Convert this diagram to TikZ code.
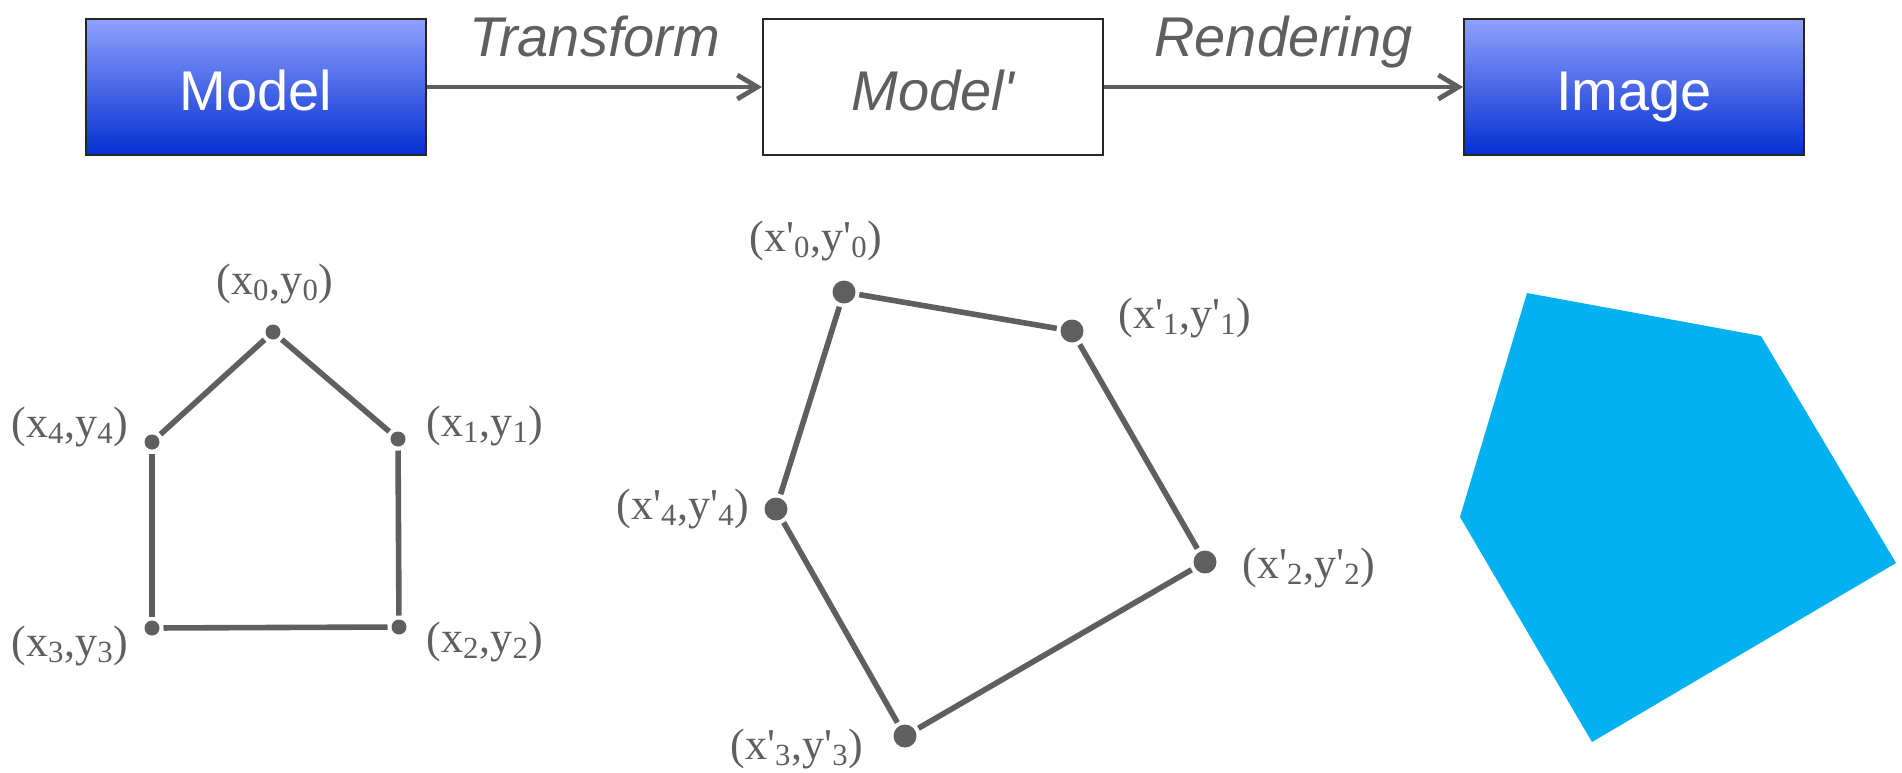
\documentclass[tikz,border=0pt]{standalone}
\usepackage{fontspec}
\usetikzlibrary{arrows.meta}
\newfontfamily\boxfont{Liberation Sans}[Ligatures=TeXOff]
\newfontfamily\crdfont{Liberation Serif}[Ligatures=TeXOff]
\definecolor{inkgray}{HTML}{5F5F5F}
\definecolor{boxtop}{RGB}{143,160,255}
\definecolor{boxmid}{RGB}{108,128,242}
\definecolor{boxbot}{RGB}{4,48,208}
\definecolor{imgblue}{RGB}{3,176,240}

\begin{document}
\begin{tikzpicture}[x=0.5pt,y=-0.5pt,
  stage/.style={rectangle,draw=black!85,line width=1pt,minimum width=170pt,
               minimum height=68pt,inner sep=0pt,text height=26pt,text depth=3pt,
               font=\boxfont\fontsize{28}{30}\selectfont},
  filled/.style={stage,top color=boxtop,middle color=boxmid,bottom color=boxbot,
                 text=white},
  flow/.style={-{Straight Barb[length=10pt,width=12pt]},inkgray,line width=2.4pt},
  steplbl/.style={font=\boxfont\itshape\fontsize{28}{30}\selectfont,
                  text=inkgray,inner sep=0pt},
  vtx/.style={circle,fill=inkgray,inner sep=0pt,minimum size=7.5pt,outer sep=2pt},
  bigvtx/.style={vtx,minimum size=11.5pt},
  rim/.style={inkgray,line width=2.8pt},
  crd/.style={font=\crdfont\fontsize{22}{24}\selectfont,text=inkgray,inner sep=0pt}]

\useasboundingbox (0,0) rectangle (1902,772);

% pipeline
\node[filled] (model) at (256,87)  {Model};
\node[stage,fill=white,text=inkgray,font=\boxfont\itshape\fontsize{28}{30}\selectfont]
      (modelp) at (933,87) {Model'};
\node[filled] (image) at (1634,87) {Image};

\draw[flow] (model) -- node[steplbl,midway,anchor=base,yshift=15.5pt] (tr) {Transform} (modelp);
\draw[flow] (modelp) -- node[steplbl,midway,anchor=base,yshift=15.5pt] (rd) {Rendering} (image);

% model polygon
\node[vtx] (p0) at (273,332) {};
\node[vtx] (p1) at (398,439) {};
\node[vtx] (p2) at (399,627) {};
\node[vtx] (p3) at (152,628) {};
\node[vtx] (p4) at (152,442) {};

\draw[rim] (p0) -- (p1);
\draw[rim] (p1) -- (p2);
\draw[rim] (p2) -- (p3);
\draw[rim] (p3) -- (p4);
\draw[rim] (p4) -- (p0);

\node[crd] (l0) at (275,284) {(x\textsubscript{0},y\textsubscript{0})};
\node[crd] (l1) at (485,426) {(x\textsubscript{1},y\textsubscript{1})};
\node[crd] (l2) at (485,642) {(x\textsubscript{2},y\textsubscript{2})};
\node[crd] (l3) at (70,646)  {(x\textsubscript{3},y\textsubscript{3})};
\node[crd] (l4) at (70,427)  {(x\textsubscript{4},y\textsubscript{4})};

% transformed polygon
\node[bigvtx] (m0) at (844,292) {};
\node[bigvtx] (m1) at (1072,331) {};
\node[bigvtx] (m2) at (1205,562) {};
\node[bigvtx] (m3) at (905,736) {};
\node[bigvtx] (m4) at (776,509) {};

\draw[rim] (m0) -- (m1);
\draw[rim] (m1) -- (m2);
\draw[rim] (m2) -- (m3);
\draw[rim] (m3) -- (m4);
\draw[rim] (m4) -- (m0);

\node[crd] (k0) at (816,241)  {(x'\textsubscript{0},y'\textsubscript{0})};
\node[crd] (k1) at (1185,318) {(x'\textsubscript{1},y'\textsubscript{1})};
\node[crd] (k2) at (1309,568) {(x'\textsubscript{2},y'\textsubscript{2})};
\node[crd] (k3) at (797,749)  {(x'\textsubscript{3},y'\textsubscript{3})};
\node[crd] (k4) at (683,509)  {(x'\textsubscript{4},y'\textsubscript{4})};

% rendered image
\fill[imgblue] (1527,293) -- (1761,336) -- (1896,563) -- (1592,742) -- (1460,517) -- cycle;

\end{tikzpicture}
\end{document}
